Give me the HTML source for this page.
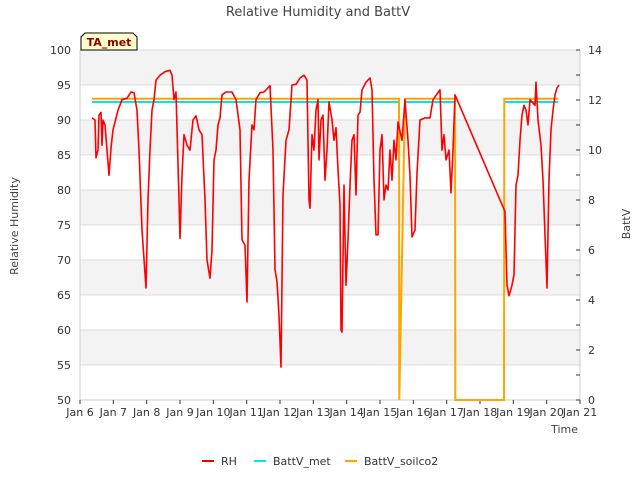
<!DOCTYPE html>
<html><head><meta charset="utf-8"><style>
body{margin:0;background:#fff;font-family:"Liberation Sans","DejaVu Sans",sans-serif}
svg text{font-family:"DejaVu Sans","Liberation Sans",sans-serif}
</style></head><body>
<svg id="chart" width="640" height="480" xmlns="http://www.w3.org/2000/svg">
<g id="bands"></g><g id="grid"></g><g id="axes"></g><g id="series"></g>
<text x="318" y="16" text-anchor="middle" font-size="13" fill="#444">Relative Humidity and BattV</text>
<text transform="translate(18,226) rotate(-90)" text-anchor="middle" font-size="11" fill="#444">Relative Humidity</text>
<text transform="translate(630,224) rotate(-90)" text-anchor="middle" font-size="11" fill="#444">BattV</text>
<text x="578" y="433" text-anchor="end" font-size="11" fill="#444">Time</text>
<g>
<path d="M81,50 L81,37 L85,33 L133,33 L137,37 L137,50 Z" fill="#ffffcc" stroke="#000" stroke-width="1"/>
<text x="109" y="46" text-anchor="middle" font-size="11" font-weight="bold" fill="#8b0000">TA_met</text></g>
<g>
<g><line x1="202" y1="461" x2="214" y2="461" stroke="#ff0000" stroke-width="2"/><text x="221" y="465" font-size="11" fill="#333">RH</text></g>
<g><line x1="254" y1="461" x2="266" y2="461" stroke="#00e5ee" stroke-width="2"/><text x="273" y="465" font-size="11" fill="#333">BattV_met</text></g>
<g><line x1="345" y1="461" x2="357" y2="461" stroke="#ffa500" stroke-width="2"/><text x="364" y="465" font-size="11" fill="#333">BattV_soilco2</text></g>
</g>
</svg>
<script>
const xTickLabels=["Jan 6","Jan 7","Jan 8","Jan 9","Jan 10","Jan 11","Jan 12","Jan 13","Jan 14","Jan 15","Jan 16","Jan 17","Jan 18","Jan 19","Jan 20","Jan 21"];
const yTicks=[50,55,60,65,70,75,80,85,90,95,100];
const y2Ticks=[0,2,4,6,8,10,12,14];
const rhDays=[0.36,0.45,0.48,0.54,0.57,0.63,0.66,0.69,0.75,0.81,0.87,0.93,0.99,1.05,1.14,1.26,1.41,1.53,1.62,1.71,1.77,1.86,1.98,2.04,2.10,2.16,2.22,2.28,2.40,2.55,2.70,2.76,2.82,2.88,2.97,3.00,3.06,3.12,3.21,3.30,3.39,3.48,3.57,3.66,3.75,3.81,3.90,3.96,4.02,4.08,4.14,4.20,4.26,4.38,4.56,4.68,4.80,4.86,4.95,5.01,5.07,5.16,5.22,5.28,5.40,5.52,5.70,5.79,5.85,5.91,5.97,6.03,6.09,6.18,6.27,6.36,6.48,6.60,6.72,6.81,6.87,6.90,6.96,7.02,7.08,7.14,7.17,7.23,7.29,7.35,7.41,7.47,7.56,7.62,7.68,7.74,7.80,7.83,7.86,7.92,7.98,8.04,8.10,8.16,8.22,8.28,8.34,8.40,8.46,8.58,8.70,8.76,8.82,8.88,8.94,9.00,9.06,9.12,9.18,9.24,9.30,9.36,9.42,9.48,9.54,9.66,9.75,9.84,9.90,9.96,10.05,10.11,10.20,10.35,10.50,10.59,10.80,10.86,10.92,10.98,11.07,11.13,11.19,11.25,12.75,12.81,12.87,12.96,13.02,13.08,13.14,13.20,13.26,13.32,13.38,13.44,13.50,13.56,13.65,13.68,13.74,13.83,13.89,13.95,14.01,14.07,14.13,14.19,14.25,14.31,14.37];
const rhValues=[90.3,90.0,84.6,85.7,90.7,91.1,86.4,90.0,89.3,85.7,82.1,86.0,88.6,89.7,91.4,92.9,93.1,94.0,93.9,91.4,85.7,74.3,66.0,78.6,85.7,91.4,92.9,95.7,96.4,96.9,97.1,96.4,92.9,94.0,78.6,73.1,82.1,87.9,86.4,85.7,90.0,90.6,88.6,87.9,78.6,70.0,67.4,71.4,84.3,85.7,89.3,90.3,93.6,94.0,94.0,92.9,88.6,72.9,72.1,64.0,81.4,89.3,88.6,92.9,93.9,94.0,94.9,85.7,68.6,66.9,62.1,54.7,79.3,87.1,88.6,95.0,95.1,96.0,96.4,95.7,78.6,77.4,87.9,85.7,91.4,92.9,84.3,90.0,90.7,81.4,85.7,92.6,90.0,87.1,88.9,82.9,77.9,60.0,59.7,80.7,66.4,72.9,80.7,87.1,87.9,79.3,90.7,91.1,94.3,95.4,96.0,94.3,81.4,73.6,73.6,85.7,87.9,78.6,80.7,80.0,85.7,81.4,87.1,84.3,89.7,87.1,92.9,87.1,82.1,73.3,74.3,82.4,90.0,90.3,90.3,92.9,94.3,85.7,87.9,84.3,85.7,79.6,85.7,93.6,76.9,66.4,64.9,66.4,67.9,80.7,82.1,87.1,90.7,92.1,91.4,89.3,92.9,92.6,92.1,95.4,90.0,86.4,81.4,73.6,66.0,81.4,88.6,91.4,93.6,94.6,95.0];
const soilDays=[0.36,9.57,9.58,9.75,11.25,11.26,12.72,12.73,14.35];
const soilValues=[12.05,12.05,0,12.05,12.05,0,0,12.05,12.05];
const metDays=[0.36,9.57,null,9.75,11.25,null,12.73,14.35];
const metValues=[11.92,11.92,null,11.92,11.92,null,11.92,11.92];

const X0=80,X1=580,Y0=400,Y1=50;
const xs=d=>X0+d*(X1-X0)/15;
const ys=v=>Y0-(v-50)*(Y0-Y1)/50;
const y2s=v=>Y0-v*(Y0-Y1)/14;
const NS="http://www.w3.org/2000/svg";
function mk(tag,attrs,parent){const e=document.createElementNS(NS,tag);for(const k in attrs)e.setAttribute(k,attrs[k]);document.getElementById(parent).appendChild(e);return e;}
// bands
for(let i=0;i<10;i++){const lo=50+i*5;const r=mk('rect',{x:X0,y:ys(lo+5),width:X1-X0,height:ys(lo)-ys(lo+5),fill:(i%2==1)?'#f3f3f3':'#ffffff'},'bands');

}
yTicks.forEach(v=>{const l=mk('line',{x1:X0,x2:X1,y1:ys(v),y2:ys(v),stroke:'#dcdcdc','stroke-width':1},'grid');


const t=mk('text',{x:X0-9,y:ys(v)+4,'text-anchor':'end','font-size':11,fill:'#333'},'axes');t.textContent=v;

});
mk('line',{x1:X0,x2:X0,y1:Y1,y2:Y0,stroke:'#ccc'},'axes');
mk('line',{x1:X1,x2:X1,y1:Y1,y2:Y0,stroke:'#ccc'},'axes');
mk('line',{x1:X0,x2:X1,y1:Y0,y2:Y0,stroke:'#ccc'},'axes');
for(let v=0;v<=14;v++){mk('line',{x1:X1,x2:X1-4,y1:y2s(v),y2:y2s(v),stroke:'#333'},'axes');}
y2Ticks.forEach(v=>{const t=mk('text',{x:X1+8,y:y2s(v)+4,'font-size':11,fill:'#333'},'axes');t.textContent=v;

});
xTickLabels.forEach((s,i)=>{mk('line',{x1:xs(i),x2:xs(i),y1:Y0,y2:Y0+4,stroke:'#333'},'axes');
const t=mk('text',{x:xs(i),y:Y0+16,'text-anchor':'middle','font-size':11,fill:'#333'},'axes');t.textContent=s;

});
function path(days,vals,sc){let d='',pen=false;for(let i=0;i<days.length;i++){if(days[i]===null){pen=false;continue;}d+=(pen?'L':'M')+xs(days[i]).toFixed(1)+','+sc(vals[i]).toFixed(1);pen=true;}return d;}
const pm=mk('path',{d:path(metDays,metValues,y2s),fill:'none',stroke:'#00e5ee','stroke-width':2},'series');


const ps=mk('path',{d:path(soilDays,soilValues,y2s),fill:'none',stroke:'#ffa500','stroke-width':2},'series');


const pr=mk('path',{d:path(rhDays,rhValues,ys),fill:'none',stroke:'#ff0000','stroke-width':1.6,'stroke-linejoin':'round'},'series');


</script>
</body></html>
